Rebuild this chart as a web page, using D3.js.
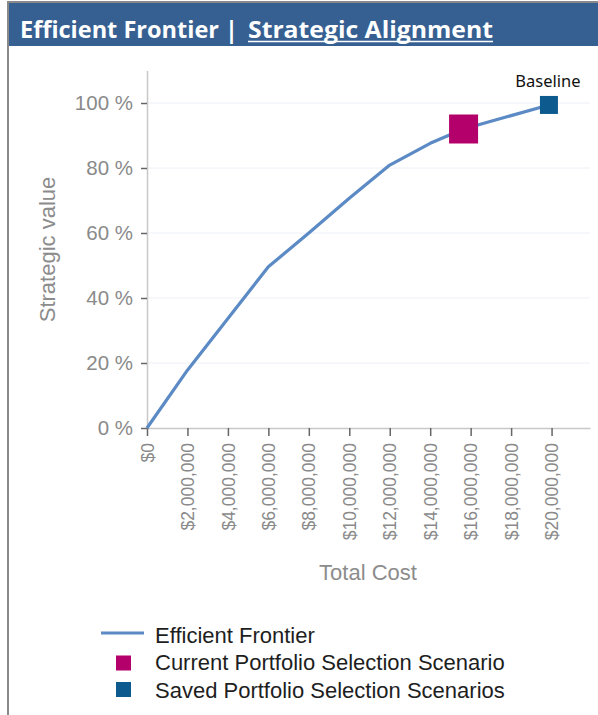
<!DOCTYPE html>
<html>
<head>
<meta charset="utf-8">
<script src="https://cdn.jsdelivr.net/npm/d3@7"></script>
<style>
	body { margin: 0; background: #fff; }
	text { font-family: "Liberation Sans", Arial, sans-serif; }
</style>
</head>
<body>
<svg id="chart" width="598" height="715"></svg>
<script>

// Efficient frontier (cost in $, strategic value in %)
const frontierCost = [0, 2e6, 4e6, 6e6, 8e6, 10e6, 12e6, 14e6, 15.65e6, 19.87e6];
const frontierValue = [0, 17.8, 33.7, 49.6, 60, 70.7, 80.9, 87.6, 92, 99.4];

// scenarios
const currentScenario = { cost: 15.65e6, value: 92 };
const savedScenarios = [{ name: "Baseline", cost: 19.87e6, value: 99.4 }];

const xTicks = [0, 2e6, 4e6, 6e6, 8e6, 10e6, 12e6, 14e6, 16e6, 18e6, 20e6];
const yTicks = [0, 20, 40, 60, 80, 100];

const legendLabels = ["Efficient Frontier", "Current Portfolio Selection Scenario", "Saved Portfolio Selection Scenarios"];

const lineColor = "#5b8ac4";
const currentColor = "#b3006b";
const savedColor = "#0d5a8f";

const svg = d3.select("#chart");

// panel frame + header
svg.append("rect")
	.attr("x", 8).attr("y", 2)
	.attr("width", 600).attr("height", 720)
	.style("fill", "#fff")
	.style("stroke", "#8a8a8a")
	.style("stroke-width", 2);

svg.append("rect")
	.attr("x", 9).attr("y", 3)
	.attr("width", 590).attr("height", 43)
	.style("fill", "#366092");

svg.append("text")
	.attr("x", 20).attr("y", 38)
	.attr("textLength", 218)
	.attr("lengthAdjust", "spacingAndGlyphs")
	.style("font-family", "'Open Sans', 'Noto Sans', sans-serif")
	.style("font-weight", "bold")
	.style("font-size", "23px")
	.style("fill", "#fff")
	.text("Efficient Frontier |");

svg.append("text")
	.attr("x", 248).attr("y", 38)
	.attr("textLength", 245)
	.attr("lengthAdjust", "spacingAndGlyphs")
	.style("font-family", "'Open Sans', 'Noto Sans', sans-serif")
	.style("font-weight", "bold")
	.style("font-size", "23px")
	.style("fill", "#fff")
	.text("Strategic Alignment");

svg.append("line")
	.attr("x1", 248).attr("x2", 493)
	.attr("y1", 41.5).attr("y2", 41.5)
	.style("stroke", "#fff")
	.style("stroke-width", 1.5);

// scales
const x = d3.scaleLinear().domain([0, 21.9e6]).range([147, 590]);
const y = d3.scaleLinear().domain([0, 110]).range([428, 70.5]);

// grid
svg.append("g").selectAll("line")
	.data(yTicks.slice(1))
	.enter().append("line")
	.attr("x1", x(0)).attr("x2", 590)
	.attr("y1", d => y(d)).attr("y2", d => y(d))
	.style("stroke", "#eef0f8")
	.style("stroke-width", 1);

// y axis
const yAxis = svg.append("g")
	.attr("transform", "translate(" + x(0) + ",0)")
	.call(d3.axisLeft(y).tickValues(yTicks).tickSize(6).tickSizeOuter(0).tickPadding(8)
		.tickFormat(d => d + " %"));
yAxis.select(".domain").style("stroke", "#c8c8c8").style("stroke-width", 1.5);
yAxis.selectAll(".tick line").style("stroke", "#666").style("stroke-width", 1.5);
yAxis.selectAll(".tick text")
	.style("font-family", "'Liberation Sans', Arial, sans-serif")
	.style("font-size", "20.5px")
	.style("fill", "#8a8a8a");

// x axis
const xAxis = svg.append("g")
	.attr("transform", "translate(0," + y(0) + ")")
	.call(d3.axisBottom(x).tickValues(xTicks).tickSize(8).tickSizeOuter(0)
		.tickFormat(d3.format("$,.0f")));
xAxis.select(".domain").style("stroke", "#c8c8c8").style("stroke-width", 1.5);
xAxis.selectAll(".tick line").style("stroke", "#666").style("stroke-width", 1.5);
xAxis.selectAll(".tick text")
	.attr("transform", "rotate(-90)")
	.attr("x", -15)
	.attr("y", 0)
	.attr("dy", "0.35em")
	.style("text-anchor", "end")
	.style("font-family", "'Liberation Sans', Arial, sans-serif")
	.style("font-size", "17.5px")
	.style("fill", "#8a8a8a");

// axis titles
svg.append("text")
	.attr("transform", "translate(55,249.5) rotate(-90)")
	.style("text-anchor", "middle")
	.style("font-size", "22px")
	.style("fill", "#8c8c8c")
	.text("Strategic value");

svg.append("text")
	.attr("x", 368).attr("y", 580)
	.style("text-anchor", "middle")
	.style("font-size", "22px")
	.style("fill", "#8c8c8c")
	.text("Total Cost");

// frontier line
const frontier = frontierCost.map((c, i) => [c, frontierValue[i]]);
svg.append("path")
	.datum(frontier)
	.attr("d", d3.line().x(d => x(d[0])).y(d => y(d[1])))
	.style("fill", "none")
	.style("stroke", lineColor)
	.style("stroke-width", 3.2)
	.style("stroke-linejoin", "round");

// saved scenarios
svg.append("g").selectAll("rect")
	.data(savedScenarios)
	.enter().append("rect")
	.attr("x", d => x(d.cost) - 9)
	.attr("y", d => y(d.value) - 9)
	.attr("width", 18).attr("height", 18)
	.style("fill", savedColor);

svg.append("g").selectAll("text")
	.data(savedScenarios)
	.enter().append("text")
	.attr("x", d => x(d.cost) - 1)
	.attr("y", d => y(d.value) - 18)
	.style("text-anchor", "middle")
	.style("font-family", "'Noto Sans', sans-serif")
	.style("font-size", "16.5px")
	.style("fill", "#111")
	.text(d => d.name);

// current scenario
svg.append("rect")
	.attr("x", x(currentScenario.cost) - 14.5)
	.attr("y", y(currentScenario.value) - 14.5)
	.attr("width", 29).attr("height", 29)
	.style("fill", currentColor);

// legend
const legend = svg.append("g");
legend.append("line")
	.attr("x1", 101).attr("x2", 144)
	.attr("y1", 633).attr("y2", 633)
	.style("stroke", lineColor)
	.style("stroke-width", 3);
legend.append("rect")
	.attr("x", 116).attr("y", 655.5)
	.attr("width", 15).attr("height", 15)
	.style("fill", currentColor);
legend.append("rect")
	.attr("x", 116).attr("y", 682)
	.attr("width", 15).attr("height", 15)
	.style("fill", savedColor);

legend.selectAll("text.legend-label")
	.data(legendLabels)
	.enter().append("text")
	.classed("legend-label", true)
	.attr("x", 155)
	.attr("y", (d, i) => 643 + i * 27.3)
	.style("font-size", "22px")
	.style("fill", "#1e1e1e")
	.text(d => d);

</script>
</body>
</html>
